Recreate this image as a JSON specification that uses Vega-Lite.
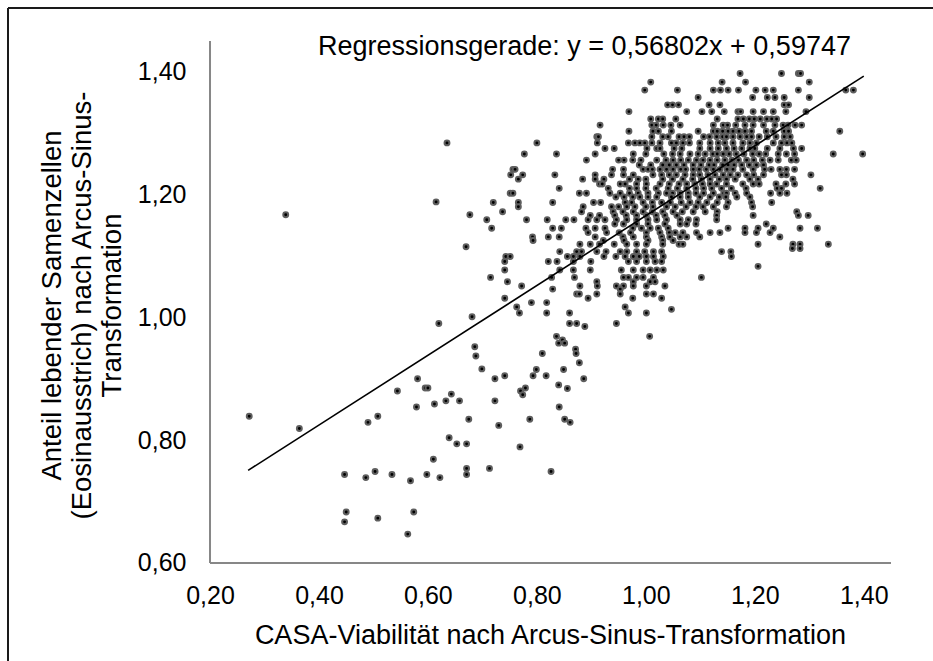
{
"$schema": "https://vega.github.io/schema/vega-lite/v6.json",
"width": 925, "height": 653,
"autosize": {"type": "none"},
"padding": {"left": 8, "top": 8, "right": 0, "bottom": 0},
"background": "white",
"config": {"font": "Liberation Sans", "view": {"stroke": "#1a1a1a", "strokeWidth": 2, "strokeDash": [925, 1578, 653, 0]}},
"title": {"text": "Regressionsgerade: y = 0,56802x + 0,59747", "fontSize": 27, "fontWeight": "normal", "color": "#000", "anchor": "middle", "dx": 114, "offset": -74, "baseline": "alphabetic"},
"datasets": {
"fit": [{"x":0.27,"y":0.75084},{"x":1.40,"y":1.39270}],
"pts": [
{"x":0.272,"y":0.839},{"x":0.364,"y":0.819},{"x":0.620,"y":0.990},{"x":0.681,"y":1.001},{"x":0.686,"y":0.952},{"x":0.688,"y":0.937},{"x":0.699,"y":0.916},{"x":0.723,"y":0.900},{"x":0.581,"y":0.900},{"x":0.595,"y":0.885},{"x":0.600,"y":0.885},{"x":0.544,"y":0.880},{"x":0.643,"y":0.875},{"x":0.633,"y":0.864},{"x":0.658,"y":0.864},{"x":0.723,"y":0.864},{"x":0.612,"y":0.859},{"x":0.579,"y":0.854},{"x":0.508,"y":0.839},{"x":0.490,"y":0.829},{"x":0.675,"y":0.834},{"x":0.730,"y":0.824},{"x":0.639,"y":0.804},{"x":0.653,"y":0.794},{"x":0.671,"y":0.794},{"x":0.610,"y":0.769},{"x":0.447,"y":0.744},{"x":0.486,"y":0.739},{"x":0.503,"y":0.749},{"x":0.534,"y":0.744},{"x":0.568,"y":0.734},{"x":0.598,"y":0.744},{"x":0.622,"y":0.739},{"x":0.671,"y":0.754},{"x":0.671,"y":0.744},{"x":0.713,"y":0.754},{"x":0.450,"y":0.683},{"x":0.447,"y":0.667},{"x":0.508,"y":0.673},{"x":0.574,"y":0.683},{"x":0.563,"y":0.647},
{"x":0.339,"y":1.167},{"x":0.615,"y":1.188},{"x":0.635,"y":1.284},{"x":0.670,"y":1.115},{"x":0.677,"y":1.167},
{"x":0.860,"y":0.990},{"x":0.873,"y":0.990},{"x":0.888,"y":0.985},{"x":0.946,"y":0.990},{"x":1.007,"y":0.969},{"x":0.836,"y":0.969},{"x":0.847,"y":0.963},{"x":0.840,"y":0.958},{"x":0.851,"y":0.958},{"x":0.871,"y":0.948},{"x":0.872,"y":0.941},{"x":0.810,"y":0.941},{"x":0.878,"y":0.926},{"x":0.799,"y":0.915},{"x":0.849,"y":0.915},{"x":0.741,"y":0.905},{"x":0.793,"y":0.905},{"x":0.817,"y":0.905},{"x":0.886,"y":0.900},{"x":0.840,"y":0.890},{"x":0.856,"y":0.884},{"x":0.779,"y":0.885},{"x":0.770,"y":0.880},{"x":0.774,"y":0.874},{"x":0.841,"y":0.854},{"x":0.787,"y":0.834},{"x":0.851,"y":0.834},{"x":0.861,"y":0.829},{"x":0.769,"y":0.789},{"x":0.826,"y":0.749},
{"x":1.173,"y":1.397},{"x":1.249,"y":1.397},{"x":1.280,"y":1.397},{"x":1.284,"y":1.397},
{"x":1.009,"y":1.383},{"x":1.140,"y":1.383},{"x":1.183,"y":1.383},{"x":1.300,"y":1.383},
{"x":0.998,"y":1.370},{"x":1.058,"y":1.370},{"x":1.124,"y":1.370},{"x":1.137,"y":1.370},{"x":1.151,"y":1.370},{"x":1.170,"y":1.370},{"x":1.202,"y":1.370},{"x":1.219,"y":1.370},{"x":1.234,"y":1.370},{"x":1.280,"y":1.370},{"x":1.367,"y":1.370},{"x":1.381,"y":1.370},
{"x":1.096,"y":1.358},{"x":1.196,"y":1.358},{"x":1.223,"y":1.358},{"x":1.237,"y":1.358},{"x":1.254,"y":1.358},{"x":1.300,"y":1.358},
{"x":1.040,"y":1.346},{"x":1.049,"y":1.346},{"x":1.060,"y":1.346},{"x":1.116,"y":1.346},{"x":1.136,"y":1.346},{"x":1.254,"y":1.346},{"x":1.262,"y":1.346},
{"x":0.969,"y":1.335},{"x":1.075,"y":1.335},{"x":1.103,"y":1.335},{"x":1.121,"y":1.335},{"x":1.144,"y":1.335},{"x":1.169,"y":1.335},{"x":1.174,"y":1.335},{"x":1.197,"y":1.335},{"x":1.216,"y":1.335},{"x":1.234,"y":1.335},{"x":1.257,"y":1.335},{"x":1.294,"y":1.335},
{"x":1.009,"y":1.323},{"x":1.023,"y":1.323},{"x":1.031,"y":1.323},{"x":1.055,"y":1.323},{"x":1.131,"y":1.323},{"x":1.169,"y":1.323},{"x":1.179,"y":1.323},{"x":1.190,"y":1.323},{"x":1.199,"y":1.323},{"x":1.210,"y":1.323},{"x":1.222,"y":1.323},{"x":1.231,"y":1.323},{"x":1.240,"y":1.323},
{"x":0.916,"y":1.313},{"x":1.011,"y":1.313},{"x":1.019,"y":1.313},{"x":1.032,"y":1.313},{"x":1.046,"y":1.313},{"x":1.063,"y":1.313},{"x":1.124,"y":1.313},{"x":1.142,"y":1.313},{"x":1.150,"y":1.313},{"x":1.165,"y":1.313},{"x":1.182,"y":1.313},{"x":1.197,"y":1.313},{"x":1.216,"y":1.313},{"x":1.237,"y":1.313},{"x":1.252,"y":1.313},{"x":1.261,"y":1.313},{"x":1.274,"y":1.313},{"x":1.286,"y":1.313},
{"x":0.969,"y":1.303},{"x":1.013,"y":1.303},{"x":1.023,"y":1.303},{"x":1.047,"y":1.303},{"x":1.096,"y":1.303},{"x":1.124,"y":1.303},{"x":1.131,"y":1.303},{"x":1.141,"y":1.303},{"x":1.151,"y":1.303},{"x":1.160,"y":1.303},{"x":1.171,"y":1.303},{"x":1.182,"y":1.303},{"x":1.194,"y":1.303},{"x":1.221,"y":1.303},{"x":1.234,"y":1.303},{"x":1.254,"y":1.303},{"x":1.262,"y":1.303},{"x":1.356,"y":1.303},
{"x":0.910,"y":1.294},{"x":0.913,"y":1.294},{"x":1.011,"y":1.294},{"x":1.031,"y":1.294},{"x":1.041,"y":1.294},{"x":1.061,"y":1.294},{"x":1.070,"y":1.294},{"x":1.080,"y":1.294},{"x":1.106,"y":1.294},{"x":1.117,"y":1.294},{"x":1.130,"y":1.294},{"x":1.141,"y":1.294},{"x":1.148,"y":1.294},{"x":1.160,"y":1.294},{"x":1.173,"y":1.294},{"x":1.185,"y":1.294},{"x":1.194,"y":1.294},{"x":1.208,"y":1.294},{"x":1.223,"y":1.294},{"x":1.239,"y":1.294},{"x":1.254,"y":1.294},{"x":1.265,"y":1.294},
{"x":0.800,"y":1.284},{"x":0.911,"y":1.284},{"x":0.968,"y":1.284},{"x":0.980,"y":1.284},{"x":0.989,"y":1.284},{"x":0.998,"y":1.284},{"x":1.011,"y":1.284},{"x":1.026,"y":1.284},{"x":1.047,"y":1.284},{"x":1.056,"y":1.284},{"x":1.068,"y":1.284},{"x":1.080,"y":1.284},{"x":1.099,"y":1.284},{"x":1.118,"y":1.284},{"x":1.133,"y":1.284},{"x":1.145,"y":1.284},{"x":1.160,"y":1.284},{"x":1.178,"y":1.284},{"x":1.191,"y":1.284},{"x":1.203,"y":1.284},{"x":1.234,"y":1.284},{"x":1.249,"y":1.284},{"x":1.259,"y":1.284},{"x":1.268,"y":1.284},
{"x":0.925,"y":1.275},{"x":0.942,"y":1.275},{"x":1.002,"y":1.275},{"x":1.020,"y":1.275},{"x":1.026,"y":1.275},{"x":1.052,"y":1.275},{"x":1.066,"y":1.275},{"x":1.099,"y":1.275},{"x":1.118,"y":1.275},{"x":1.133,"y":1.275},{"x":1.148,"y":1.275},{"x":1.162,"y":1.275},{"x":1.176,"y":1.275},{"x":1.191,"y":1.275},{"x":1.200,"y":1.275},{"x":1.223,"y":1.275},{"x":1.246,"y":1.275},{"x":1.271,"y":1.275},{"x":1.286,"y":1.275},
{"x":0.777,"y":1.266},{"x":0.836,"y":1.266},{"x":0.907,"y":1.266},{"x":0.977,"y":1.266},{"x":1.000,"y":1.266},{"x":1.033,"y":1.266},{"x":1.049,"y":1.266},{"x":1.063,"y":1.266},{"x":1.081,"y":1.266},{"x":1.096,"y":1.266},{"x":1.109,"y":1.266},{"x":1.123,"y":1.266},{"x":1.131,"y":1.266},{"x":1.142,"y":1.266},{"x":1.153,"y":1.266},{"x":1.166,"y":1.266},{"x":1.180,"y":1.266},{"x":1.196,"y":1.266},{"x":1.208,"y":1.266},{"x":1.220,"y":1.266},{"x":1.243,"y":1.266},{"x":1.258,"y":1.266},{"x":1.273,"y":1.266},{"x":1.344,"y":1.266},{"x":1.398,"y":1.266},
{"x":0.891,"y":1.256},{"x":0.950,"y":1.256},{"x":0.960,"y":1.256},{"x":0.976,"y":1.256},{"x":0.991,"y":1.256},{"x":1.020,"y":1.256},{"x":1.037,"y":1.256},{"x":1.050,"y":1.256},{"x":1.064,"y":1.256},{"x":1.078,"y":1.256},{"x":1.093,"y":1.256},{"x":1.105,"y":1.256},{"x":1.118,"y":1.256},{"x":1.131,"y":1.256},{"x":1.145,"y":1.256},{"x":1.158,"y":1.256},{"x":1.170,"y":1.256},{"x":1.185,"y":1.256},{"x":1.198,"y":1.256},{"x":1.214,"y":1.256},{"x":1.228,"y":1.256},{"x":1.243,"y":1.256},{"x":1.267,"y":1.256},{"x":1.276,"y":1.256},
{"x":0.988,"y":1.248},{"x":1.009,"y":1.248},{"x":1.031,"y":1.248},{"x":1.043,"y":1.248},{"x":1.056,"y":1.248},{"x":1.070,"y":1.248},{"x":1.087,"y":1.248},{"x":1.101,"y":1.248},{"x":1.116,"y":1.248},{"x":1.125,"y":1.248},{"x":1.141,"y":1.248},{"x":1.151,"y":1.248},{"x":1.162,"y":1.248},{"x":1.176,"y":1.248},{"x":1.190,"y":1.248},{"x":1.203,"y":1.248},{"x":1.216,"y":1.248},
{"x":0.756,"y":1.241},{"x":0.760,"y":1.241},{"x":0.939,"y":1.241},{"x":0.959,"y":1.241},{"x":0.995,"y":1.241},{"x":1.004,"y":1.241},{"x":1.012,"y":1.241},{"x":1.026,"y":1.241},{"x":1.038,"y":1.241},{"x":1.050,"y":1.241},{"x":1.064,"y":1.241},{"x":1.073,"y":1.241},{"x":1.087,"y":1.241},{"x":1.098,"y":1.241},{"x":1.111,"y":1.241},{"x":1.124,"y":1.241},{"x":1.136,"y":1.241},{"x":1.149,"y":1.241},{"x":1.160,"y":1.241},{"x":1.178,"y":1.241},{"x":1.197,"y":1.241},{"x":1.218,"y":1.241},{"x":1.230,"y":1.241},{"x":1.246,"y":1.241},{"x":1.258,"y":1.241},{"x":1.273,"y":1.241},
{"x":0.752,"y":1.232},{"x":0.774,"y":1.232},{"x":0.833,"y":1.232},{"x":0.907,"y":1.232},{"x":0.937,"y":1.232},{"x":0.959,"y":1.232},{"x":0.977,"y":1.232},{"x":1.013,"y":1.232},{"x":1.029,"y":1.232},{"x":1.043,"y":1.232},{"x":1.056,"y":1.232},{"x":1.072,"y":1.232},{"x":1.087,"y":1.232},{"x":1.099,"y":1.232},{"x":1.114,"y":1.232},{"x":1.127,"y":1.232},{"x":1.142,"y":1.232},{"x":1.155,"y":1.232},{"x":1.169,"y":1.232},{"x":1.185,"y":1.232},{"x":1.198,"y":1.232},{"x":1.216,"y":1.232},{"x":1.249,"y":1.232},{"x":1.258,"y":1.232},{"x":1.303,"y":1.232},
{"x":0.766,"y":1.225},{"x":0.884,"y":1.225},{"x":0.907,"y":1.225},{"x":0.923,"y":1.225},{"x":0.970,"y":1.225},{"x":0.986,"y":1.225},{"x":1.000,"y":1.225},{"x":1.031,"y":1.225},{"x":1.049,"y":1.225},{"x":1.068,"y":1.225},{"x":1.086,"y":1.225},{"x":1.102,"y":1.225},{"x":1.118,"y":1.225},{"x":1.135,"y":1.225},{"x":1.148,"y":1.225},{"x":1.164,"y":1.225},{"x":1.191,"y":1.225},{"x":1.206,"y":1.225},{"x":1.270,"y":1.225},
{"x":0.915,"y":1.217},{"x":0.920,"y":1.217},{"x":0.953,"y":1.217},{"x":0.962,"y":1.217},{"x":0.983,"y":1.217},{"x":1.001,"y":1.217},{"x":1.026,"y":1.217},{"x":1.043,"y":1.217},{"x":1.061,"y":1.217},{"x":1.075,"y":1.217},{"x":1.090,"y":1.217},{"x":1.104,"y":1.217},{"x":1.118,"y":1.217},{"x":1.130,"y":1.217},{"x":1.148,"y":1.217},{"x":1.178,"y":1.217},{"x":1.197,"y":1.217},{"x":1.208,"y":1.217},{"x":1.239,"y":1.217},{"x":1.257,"y":1.217},{"x":1.273,"y":1.217},
{"x":0.841,"y":1.210},{"x":0.931,"y":1.210},{"x":0.970,"y":1.210},{"x":0.983,"y":1.210},{"x":1.000,"y":1.210},{"x":1.019,"y":1.210},{"x":1.041,"y":1.210},{"x":1.058,"y":1.210},{"x":1.075,"y":1.210},{"x":1.092,"y":1.210},{"x":1.106,"y":1.210},{"x":1.121,"y":1.210},{"x":1.139,"y":1.210},{"x":1.157,"y":1.210},{"x":1.184,"y":1.210},{"x":1.241,"y":1.210},{"x":1.249,"y":1.210},{"x":1.320,"y":1.210},
{"x":0.751,"y":1.202},{"x":0.756,"y":1.202},{"x":0.878,"y":1.202},{"x":0.891,"y":1.202},{"x":0.934,"y":1.202},{"x":0.953,"y":1.202},{"x":0.970,"y":1.202},{"x":0.986,"y":1.202},{"x":1.004,"y":1.202},{"x":1.023,"y":1.202},{"x":1.038,"y":1.202},{"x":1.049,"y":1.202},{"x":1.063,"y":1.202},{"x":1.078,"y":1.202},{"x":1.092,"y":1.202},{"x":1.106,"y":1.202},{"x":1.124,"y":1.202},{"x":1.143,"y":1.202},{"x":1.148,"y":1.202},{"x":1.164,"y":1.202},{"x":1.185,"y":1.202},{"x":1.229,"y":1.202},{"x":1.246,"y":1.202},{"x":1.259,"y":1.202},
{"x":0.945,"y":1.196},{"x":0.960,"y":1.196},{"x":0.976,"y":1.196},{"x":0.989,"y":1.196},{"x":1.004,"y":1.196},{"x":1.020,"y":1.196},{"x":1.047,"y":1.196},{"x":1.063,"y":1.196},{"x":1.078,"y":1.196},{"x":1.099,"y":1.196},{"x":1.118,"y":1.196},{"x":1.135,"y":1.196},{"x":1.147,"y":1.196},{"x":1.167,"y":1.196},{"x":1.191,"y":1.196},
{"x":0.720,"y":1.187},{"x":0.766,"y":1.187},{"x":0.829,"y":1.187},{"x":0.904,"y":1.187},{"x":0.917,"y":1.187},{"x":0.962,"y":1.187},{"x":0.974,"y":1.187},{"x":0.995,"y":1.187},{"x":1.012,"y":1.187},{"x":1.029,"y":1.187},{"x":1.045,"y":1.187},{"x":1.065,"y":1.187},{"x":1.081,"y":1.187},{"x":1.096,"y":1.187},{"x":1.112,"y":1.187},{"x":1.131,"y":1.187},{"x":1.151,"y":1.187},{"x":1.194,"y":1.187},{"x":1.231,"y":1.187},
{"x":0.766,"y":1.180},{"x":0.885,"y":1.180},{"x":0.937,"y":1.180},{"x":0.950,"y":1.180},{"x":0.965,"y":1.180},{"x":0.980,"y":1.180},{"x":1.000,"y":1.180},{"x":1.013,"y":1.180},{"x":1.038,"y":1.180},{"x":1.054,"y":1.180},{"x":1.074,"y":1.180},{"x":1.092,"y":1.180},{"x":1.105,"y":1.180},{"x":1.124,"y":1.180},{"x":1.148,"y":1.180},{"x":1.196,"y":1.180},
{"x":0.737,"y":1.172},{"x":0.882,"y":1.172},{"x":0.940,"y":1.172},{"x":0.958,"y":1.172},{"x":0.977,"y":1.172},{"x":0.995,"y":1.172},{"x":1.012,"y":1.172},{"x":1.031,"y":1.172},{"x":1.050,"y":1.172},{"x":1.067,"y":1.172},{"x":1.087,"y":1.172},{"x":1.109,"y":1.172},{"x":1.131,"y":1.172},{"x":1.277,"y":1.172},
{"x":0.898,"y":1.166},{"x":0.915,"y":1.166},{"x":0.943,"y":1.166},{"x":0.964,"y":1.166},{"x":0.983,"y":1.166},{"x":1.001,"y":1.166},{"x":1.019,"y":1.166},{"x":1.035,"y":1.166},{"x":1.057,"y":1.166},{"x":1.130,"y":1.166},{"x":1.197,"y":1.166},{"x":1.280,"y":1.166},{"x":1.298,"y":1.166},
{"x":0.708,"y":1.159},{"x":0.781,"y":1.159},{"x":0.819,"y":1.159},{"x":0.853,"y":1.159},{"x":0.868,"y":1.159},{"x":0.894,"y":1.159},{"x":0.910,"y":1.159},{"x":0.925,"y":1.159},{"x":0.946,"y":1.159},{"x":0.965,"y":1.159},{"x":0.983,"y":1.159},{"x":1.004,"y":1.159},{"x":1.020,"y":1.159},{"x":1.038,"y":1.159},{"x":1.063,"y":1.159},{"x":1.078,"y":1.159},{"x":1.093,"y":1.159},{"x":1.130,"y":1.159},
{"x":0.943,"y":1.152},{"x":0.959,"y":1.152},{"x":0.983,"y":1.152},{"x":1.004,"y":1.152},{"x":1.035,"y":1.152},{"x":1.063,"y":1.152},{"x":1.075,"y":1.152},{"x":1.092,"y":1.152},{"x":1.221,"y":1.152},
{"x":0.717,"y":1.145},{"x":0.829,"y":1.145},{"x":0.845,"y":1.145},{"x":0.890,"y":1.145},{"x":0.907,"y":1.145},{"x":0.925,"y":1.145},{"x":0.976,"y":1.145},{"x":0.992,"y":1.145},{"x":1.008,"y":1.145},{"x":1.023,"y":1.145},{"x":1.041,"y":1.145},{"x":1.151,"y":1.145},{"x":1.182,"y":1.145},{"x":1.206,"y":1.145},{"x":1.234,"y":1.145},{"x":1.283,"y":1.145},{"x":1.315,"y":1.145},
{"x":0.894,"y":1.138},{"x":0.928,"y":1.138},{"x":0.951,"y":1.138},{"x":0.972,"y":1.138},{"x":1.001,"y":1.138},{"x":1.026,"y":1.138},{"x":1.043,"y":1.138},{"x":1.054,"y":1.138},{"x":1.068,"y":1.138},{"x":1.093,"y":1.138},{"x":1.118,"y":1.138},{"x":1.136,"y":1.138},{"x":1.182,"y":1.138},{"x":1.203,"y":1.138},{"x":1.228,"y":1.138},
{"x":0.792,"y":1.131},{"x":0.821,"y":1.131},{"x":0.841,"y":1.131},{"x":0.907,"y":1.131},{"x":0.958,"y":1.131},{"x":0.977,"y":1.131},{"x":1.001,"y":1.131},{"x":1.029,"y":1.131},{"x":1.044,"y":1.131},{"x":1.063,"y":1.131},{"x":1.075,"y":1.131},{"x":1.099,"y":1.131},{"x":1.246,"y":1.131},
{"x":0.793,"y":1.125},{"x":0.922,"y":1.125},{"x":0.960,"y":1.125},{"x":1.004,"y":1.125},{"x":1.031,"y":1.125},{"x":1.050,"y":1.125},
{"x":0.879,"y":1.119},{"x":0.898,"y":1.119},{"x":0.915,"y":1.119},{"x":0.942,"y":1.119},{"x":0.965,"y":1.119},{"x":0.983,"y":1.119},{"x":1.001,"y":1.119},{"x":1.031,"y":1.119},{"x":1.061,"y":1.119},{"x":1.068,"y":1.119},{"x":1.206,"y":1.119},{"x":1.270,"y":1.119},{"x":1.283,"y":1.119},{"x":1.335,"y":1.119},
{"x":1.269,"y":1.112},{"x":1.283,"y":1.112},
{"x":0.842,"y":1.107},{"x":0.873,"y":1.107},{"x":0.882,"y":1.107},{"x":0.910,"y":1.107},{"x":0.927,"y":1.107},{"x":0.953,"y":1.107},{"x":0.965,"y":1.107},{"x":0.983,"y":1.107},{"x":0.998,"y":1.107},{"x":1.014,"y":1.107},{"x":1.029,"y":1.107},{"x":1.139,"y":1.107},{"x":1.156,"y":1.107},
{"x":0.743,"y":1.099},{"x":0.751,"y":1.099},{"x":0.856,"y":1.099},{"x":0.867,"y":1.099},{"x":0.879,"y":1.099},{"x":0.923,"y":1.099},{"x":0.945,"y":1.099},{"x":0.962,"y":1.099},{"x":0.977,"y":1.099},{"x":0.988,"y":1.099},{"x":1.001,"y":1.099},{"x":1.014,"y":1.099},{"x":1.032,"y":1.099},{"x":1.157,"y":1.099},
{"x":0.741,"y":1.091},{"x":0.821,"y":1.091},{"x":0.837,"y":1.091},{"x":0.867,"y":1.091},{"x":0.899,"y":1.091},{"x":0.968,"y":1.091},{"x":0.983,"y":1.091},{"x":1.001,"y":1.091},{"x":1.017,"y":1.091},{"x":1.029,"y":1.091},
{"x":1.206,"y":1.083},
{"x":0.741,"y":1.077},{"x":0.842,"y":1.077},{"x":0.867,"y":1.077},{"x":0.898,"y":1.077},{"x":0.955,"y":1.077},{"x":0.977,"y":1.077},{"x":0.995,"y":1.077},{"x":1.008,"y":1.077},{"x":1.020,"y":1.077},{"x":1.032,"y":1.077},
{"x":0.715,"y":1.065},{"x":0.827,"y":1.065},{"x":0.869,"y":1.065},{"x":0.959,"y":1.065},{"x":0.968,"y":1.065},{"x":0.983,"y":1.065},{"x":0.995,"y":1.065},{"x":1.014,"y":1.065},{"x":1.102,"y":1.065},
{"x":0.746,"y":1.058},{"x":0.910,"y":1.058},{"x":0.977,"y":1.058},{"x":1.008,"y":1.058},{"x":1.017,"y":1.058},
{"x":0.772,"y":1.051},{"x":0.879,"y":1.051},{"x":0.911,"y":1.051},{"x":0.946,"y":1.051},{"x":0.959,"y":1.051},{"x":0.977,"y":1.051},{"x":1.001,"y":1.051},{"x":1.035,"y":1.051},
{"x":0.829,"y":1.046},{"x":0.953,"y":1.046},
{"x":0.873,"y":1.038},{"x":0.878,"y":1.038},{"x":0.910,"y":1.038},{"x":0.953,"y":1.038},{"x":1.001,"y":1.038},{"x":1.014,"y":1.038},
{"x":0.741,"y":1.031},{"x":0.894,"y":1.031},{"x":0.976,"y":1.031},{"x":1.029,"y":1.031},
{"x":0.790,"y":1.024},{"x":0.818,"y":1.024},
{"x":0.763,"y":1.017},{"x":0.962,"y":1.017},
{"x":1.047,"y":1.013},
{"x":0.768,"y":1.007},{"x":0.818,"y":1.007},{"x":0.860,"y":1.007},{"x":0.968,"y":1.007},{"x":1.001,"y":1.007}
]
},
"layer": [
{"data": {"name": "pts"},
 "mark": {"type": "circle", "color": "#000", "stroke": "#5e5e5e", "strokeWidth": 2, "size": 24, "opacity": 1},
 "encoding": {
  "x": {"field": "x", "type": "quantitative", "scale": {"domain": [-0.1708, 1.5271], "nice": false, "zero": false},
        "axis": {"values": [0.2, 0.4, 0.6, 0.8, 1.0, 1.2, 1.4], "labelExpr": "replace(format(datum.value, '.2f'), '.', ',')",
                 "domain": false, "ticks": false, "tickSize": 0, "grid": false, "offset": -98,
                 "labelFontSize": 25, "labelColor": "#000", "labelPadding": 20, "labelFlush": false, "labelOverlap": false,
                 "title": "CASA-Viabilität nach Arcus-Sinus-Transformation", "titleFontSize": 27, "titleFontWeight": "normal", "titleColor": "#000",
                 "titleX": 542, "titleY": 80, "titleBaseline": "alphabetic", "titleAlign": "center"}},
  "y": {"field": "y", "type": "quantitative", "scale": {"domain": [0.4404, 1.5037], "nice": false, "zero": false},
        "axis": {"values": [0.6, 0.8, 1.0, 1.2, 1.4], "labelExpr": "replace(format(datum.value, '.2f'), '.', ',')",
                 "domain": false, "ticks": false, "tickSize": 0, "grid": false, "offset": -202,
                 "labelFontSize": 25, "labelColor": "#000", "labelPadding": 24, "labelFlush": false, "labelOverlap": false,
                 "title": ["Anteil lebender Samenzellen", "(Eosinausstrich) nach Arcus-Sinus-", "Transformation"],
                 "titleFontSize": 27.5, "titleFontWeight": "normal", "titleColor": "#000", "titleLineHeight": 30,
                 "titleAngle": 270, "titleBaseline": "middle", "titleAlign": "center", "titleX": -158, "titleY": 297}}
 }},
{"data": {"values": [{}]},
 "mark": {"type": "rule", "color": "#878787", "strokeWidth": 2},
 "encoding": {"x": {"datum": 0.2, "type": "quantitative"},
              "y": {"datum": 0.6, "type": "quantitative"},
              "y2": {"datum": 1.45}}},
{"data": {"values": [{}]},
 "mark": {"type": "rule", "color": "#878787", "strokeWidth": 2},
 "encoding": {"x": {"datum": 0.2, "type": "quantitative"},
              "x2": {"datum": 1.45},
              "y": {"datum": 0.6, "type": "quantitative"}}},
{"data": {"name": "fit"},
 "mark": {"type": "line", "color": "#000", "strokeWidth": 1.6},
 "encoding": {"x": {"field": "x", "type": "quantitative"}, "y": {"field": "y", "type": "quantitative"}}}
]
}
